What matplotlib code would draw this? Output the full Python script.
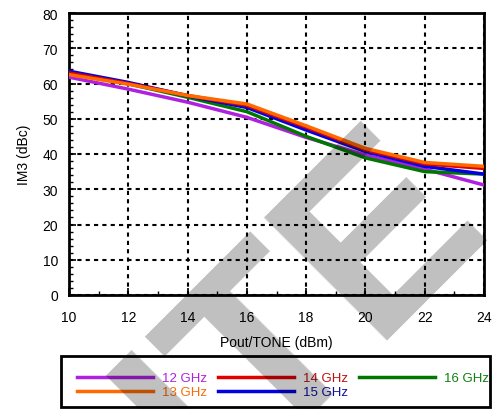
import matplotlib
matplotlib.use("Agg")
import matplotlib.pyplot as plt
from matplotlib.ticker import MultipleLocator
from matplotlib.patches import Rectangle

x = [10, 12, 14, 16, 18, 20, 22, 24]
im3_12 = [61.8, 58.4, 54.7, 50.4, 44.7, 39.7, 35.7, 31.2]
im3_13 = [62.5, 59.8, 56.6, 54.2, 48.0, 41.6, 37.6, 36.5]
im3_14 = [63.0, 60.0, 56.6, 53.8, 47.6, 41.2, 37.2, 35.9]
im3_15 = [63.5, 60.3, 56.5, 53.2, 46.8, 40.7, 36.5, 34.3]
im3_16 = [63.0, 59.9, 56.1, 52.0, 45.0, 38.9, 35.0, 34.3]
labels = ["12 GHz", "13 GHz", "14 GHz", "15 GHz", "16 GHz"]
line_colors = ["#b020e0", "#ff6a00", "#e00000", "#0000e0", "#007800"]
text_colors = ["#b020e0", "#ff6a00", "#c01010", "#1010a0", "#108010"]

plt.rcParams['font.family'] = ['Liberation Sans', 'DejaVu Sans']

W, H = 492, 410
fig = plt.figure(figsize=(W / 100, H / 100), dpi=100)
ax = fig.add_axes([69 / W, 1 - 296 / H, (484 - 69) / W, (296 - 14) / H])

series = [im3_12, im3_13, im3_14, im3_15, im3_16]
order = [0, 4, 3, 2, 1]
handles = [None] * 5
for i in order:
    h, = ax.plot(x, series[i], color=line_colors[i], lw=2.5, label=labels[i], zorder=3)
    handles[i] = h

ax.set_xlim(10, 24)
ax.set_ylim(0, 80)
ax.xaxis.set_major_locator(MultipleLocator(2))
ax.yaxis.set_major_locator(MultipleLocator(10))
ax.yaxis.set_minor_locator(MultipleLocator(2))
ax.xaxis.set_minor_locator(MultipleLocator(1))
ax.tick_params(which='both', direction='in', labelsize=10)
ax.tick_params(axis='x', which='major', pad=11)
ax.tick_params(axis='y', which='major', pad=8)
ax.tick_params(which='major', length=5, width=1.2)
ax.tick_params(which='minor', length=3, width=1)
ax.grid(True, which='major', color='black', linestyle=(0, (2, 2)), lw=1.5)
for s in ax.spines.values():
    s.set_linewidth(2)
ax.set_xlabel("Pout/TONE (dBm)", fontsize=10, labelpad=8)
ax.set_ylabel("IM3 (dBc)", fontsize=10, labelpad=8)

leg = fig.legend(handles, labels, ncol=3, loc='upper left',
                 bbox_to_anchor=(77 / W, 1 - 373 / H),
                 frameon=False, handlelength=5.76, fontsize=9.5,
                 labelspacing=0.15, borderpad=0, borderaxespad=0,
                 handletextpad=0.68, columnspacing=0.82)
for t, c in zip(leg.get_texts(), text_colors):
    t.set_color(c)

fig.patches.append(Rectangle((61 / W, 1 - 408 / H), (490 - 61) / W, (408 - 357) / H,
                             transform=fig.transFigure, fill=False,
                             edgecolor='black', lw=2))

# watermark
fig.text(305 / W, 1 - 314 / H, "ITE", rotation=45, rotation_mode='anchor',
         ha='center', va='center', fontsize=182, fontweight='bold',
         family='Liberation Sans', color='black', alpha=0.25, zorder=10)

fig.savefig("out.png", dpi=100)
